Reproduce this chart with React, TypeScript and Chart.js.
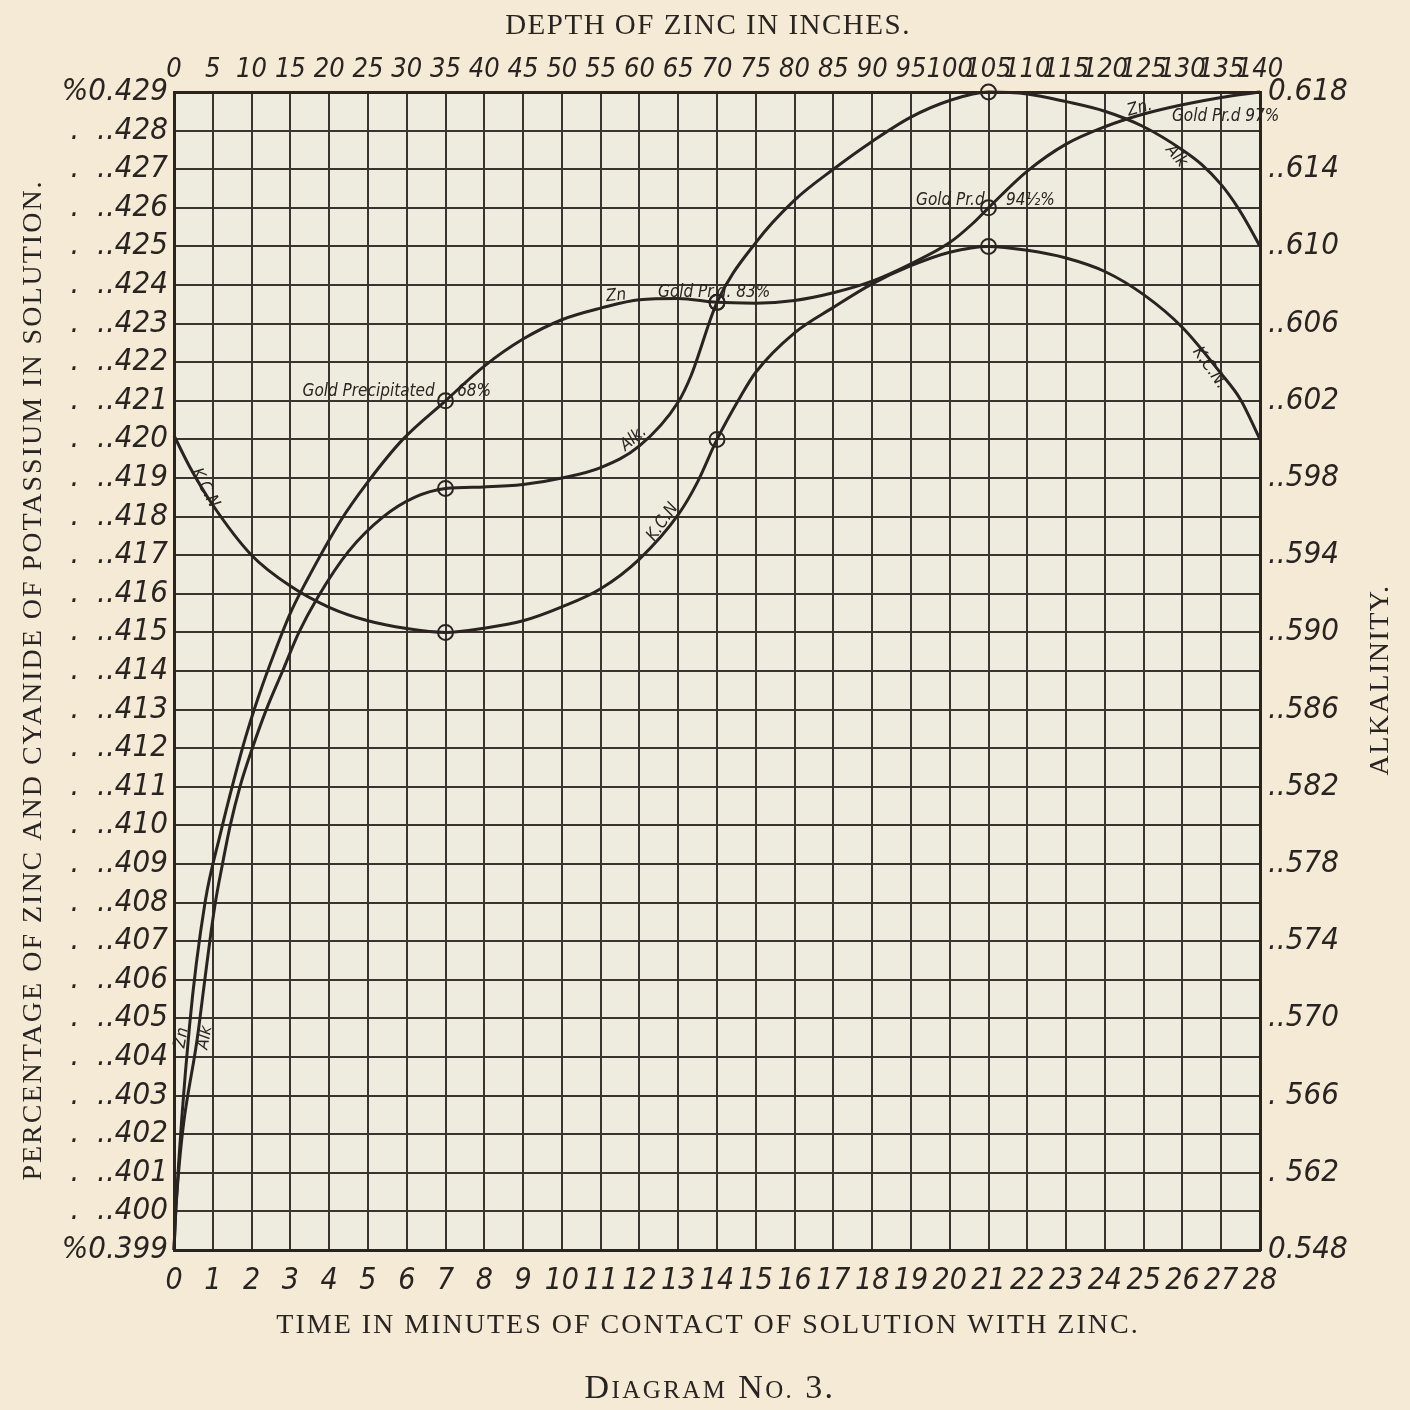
import React, { useEffect, useRef } from "react";
import { Chart, registerables } from "chart.js";

Chart.register(...registerables);

// ---------- data ----------
const znTimes = [0, 0.05, 0.4, 0.8, 1.2, 1.55, 1.85, 2.2, 2.6, 3.0, 3.4, 4.3, 5.0, 5.9, 7, 8, 9, 10, 11, 12, 13, 14, 15, 16, 17, 18, 19, 20, 20.6, 21, 22, 23, 24, 25, 26, 27, 28];
const znValues = [0.399, 0.4001, 0.4048, 0.408, 0.4098, 0.4112, 0.4123, 0.4134, 0.4145, 0.4155, 0.4163, 0.4179, 0.4189, 0.42, 0.421, 0.4219, 0.4226, 0.4231, 0.4234, 0.42362, 0.42365, 0.42355, 0.42353, 0.4236, 0.4238, 0.4241, 0.42455, 0.4251, 0.4256, 0.426, 0.42695, 0.42765, 0.4281, 0.42843, 0.42867, 0.42886, 0.429];

const alkTimes = [0, 0.05, 0.63, 1.05, 1.25, 1.45, 1.7, 2.02, 2.38, 2.8, 3.22, 3.7, 4.5, 5.4, 6.2, 7, 8, 9, 10, 11, 12, 13, 13.33, 14, 15, 16, 17, 18, 19, 20, 21, 22, 23, 24, 25, 26, 26.5, 27, 27.4, 27.7, 28];
const alkValues = [0.399, 0.4001, 0.4047, 0.4079, 0.409, 0.41, 0.411, 0.412, 0.413, 0.414, 0.415, 0.4159, 0.4171, 0.418, 0.4185, 0.41873, 0.41877, 0.41883, 0.419, 0.41927, 0.41983, 0.42097, 0.42165, 0.42355, 0.4251, 0.4262, 0.427, 0.42772, 0.42835, 0.42878, 0.429, 0.42895, 0.42875, 0.4285, 0.4281, 0.4275, 0.42712, 0.4266, 0.42605, 0.42555, 0.425];

const kcnTimes = [0, 0.4, 1, 2, 3, 4, 5, 6, 7, 8, 9, 10, 11, 12, 13, 13.5, 14, 14.6, 15, 16, 17, 18, 19, 20, 21, 22, 23, 24, 25, 26, 27, 27.5, 28];
const kcnValues = [0.4201, 0.4193, 0.4183, 0.417, 0.4162, 0.41565, 0.4153, 0.4151, 0.415, 0.41511, 0.4153, 0.41566, 0.41613, 0.4169, 0.41805, 0.4189, 0.42, 0.4211, 0.42174, 0.42276, 0.42342, 0.42403, 0.4245, 0.42485, 0.425, 0.4249, 0.4247, 0.42435, 0.42375, 0.4229, 0.4217, 0.42103, 0.42];

const markerTimes = [7, 14, 21];

const leftTickValues = [0.399, 0.4, 0.401, 0.402, 0.403, 0.404, 0.405, 0.406, 0.407, 0.408, 0.409, 0.41, 0.411, 0.412, 0.413, 0.414, 0.415, 0.416, 0.417, 0.418, 0.419, 0.42, 0.421, 0.422, 0.423, 0.424, 0.425, 0.426, 0.427, 0.428, 0.429];
const leftTickLabels = ["%0.399", ".  ..400", ".  ..401", ".  ..402", ".  ..403", ".  ..404", ".  ..405", ".  ..406", ".  ..407", ".  ..408", ".  ..409", ".  ..410", ".  ..411", ".  ..412", ".  ..413", ".  ..414", ".  ..415", ".  ..416", ".  ..417", ".  ..418", ".  ..419", ".  ..420", ".  ..421", ".  ..422", ".  ..423", ".  ..424", ".  ..425", ".  ..426", ".  ..427", ".  ..428", "%0.429"];

const rightTickValues = [0.399, 0.401, 0.403, 0.405, 0.407, 0.409, 0.411, 0.413, 0.415, 0.417, 0.419, 0.421, 0.423, 0.425, 0.427, 0.429];
const rightTickLabels = ["0.548", ". 562", ". 566", "..570", "..574", "..578", "..582", "..586", "..590", "..594", "..598", "..602", "..606", "..610", "..614", "0.618"];

const bottomTickValues = [0, 1, 2, 3, 4, 5, 6, 7, 8, 9, 10, 11, 12, 13, 14, 15, 16, 17, 18, 19, 20, 21, 22, 23, 24, 25, 26, 27, 28];
const topTickValues = [0, 5, 10, 15, 20, 25, 30, 35, 40, 45, 50, 55, 60, 65, 70, 75, 80, 85, 90, 95, 100, 105, 110, 115, 120, 125, 130, 135, 140];

const topTitle = "DEPTH OF ZINC IN INCHES.";
const bottomTitle = "TIME IN MINUTES OF CONTACT OF SOLUTION WITH ZINC.";
const leftTitle = "PERCENTAGE OF ZINC AND CYANIDE OF POTASSIUM IN SOLUTION.";
const rightTitle = "ALKALINITY.";

type Note = { text: string; t: number; v: number; angle: number; align: CanvasTextAlign };
const notes: Note[] = [
  { text: "Gold Precipitated", t: 6.72, v: 0.42123, angle: 0, align: "right" },
  { text: "68%", t: 7.3, v: 0.42123, angle: 0, align: "left" },
  { text: "Zn", t: 11.4, v: 0.42372, angle: -6, align: "center" },
  { text: "Gold Pr.d. 83%", t: 12.48, v: 0.4238, angle: 0, align: "left" },
  { text: "Alk.", t: 11.85, v: 0.42002, angle: -40, align: "center" },
  { text: "K.C.N", t: 12.6, v: 0.41786, angle: -55, align: "center" },
  { text: "K.C.N", t: 0.8, v: 0.41874, angle: 62, align: "center" },
  { text: "Gold Pr.d", t: 20.9, v: 0.4262, angle: 0, align: "right" },
  { text: "94½%", t: 21.45, v: 0.4262, angle: 0, align: "left" },
  { text: "Zn.", t: 24.9, v: 0.42858, angle: -15, align: "center" },
  { text: "Gold Pr.d 97%", t: 25.73, v: 0.42836, angle: 0, align: "left" },
  { text: "Alk.", t: 25.88, v: 0.42729, angle: 50, align: "center" },
  { text: "K.C.N.", t: 26.7, v: 0.42185, angle: 55, align: "center" },
  { text: "Zn", t: 0.2, v: 0.4045, angle: -80, align: "center" },
  { text: "Alk", t: 0.8, v: 0.4045, angle: -80, align: "center" },
];

// ---------- style ----------
const INK = "#2a2420";
const GRID = "#3b342e";
const PAGE = "#f5ead6";
const PAPER = "#eeebdf";
const TICK_FONT = "'DejaVu Sans Condensed', 'DejaVu Sans', sans-serif";
const NOTE_FONT = "'DejaVu Sans Condensed', 'DejaVu Sans', sans-serif";
const SERIF = "'Liberation Serif', 'DejaVu Serif', serif";

const toPoints = (ts: number[], vs: number[]) => ts.map((x, i) => ({ x, y: vs[i] }));
const isMarker = (ctx: any) => (ctx.raw && markerTimes.includes(ctx.raw.x) ? 7.5 : 0);

const backgroundPlugin = {
  id: "paperBackground",
  beforeDraw(chart: any) {
    const { ctx, chartArea } = chart;
    ctx.save();
    ctx.fillStyle = PAGE;
    ctx.fillRect(0, 0, chart.width, chart.height);
    ctx.fillStyle = PAPER;
    ctx.fillRect(chartArea.left, chartArea.top, chartArea.right - chartArea.left, chartArea.bottom - chartArea.top);
    ctx.restore();
  },
};

const textPlugin = {
  id: "paperText",
  afterDraw(chart: any) {
    const { ctx, chartArea, scales } = chart;
    const cx = (chartArea.left + chartArea.right) / 2 - 9;
    const cy = (chartArea.top + chartArea.bottom) / 2 + 9;
    ctx.save();
    ctx.fillStyle = INK;
    ctx.textBaseline = "middle";
    ctx.textAlign = "center";

    ctx.letterSpacing = "1.5px";
    ctx.font = `29px ${SERIF}`;
    ctx.fillText(topTitle, cx, 26);
    ctx.letterSpacing = "2px";
    ctx.font = `28px ${SERIF}`;
    ctx.fillText(bottomTitle, cx, chartArea.bottom + 76);

    // left title
    ctx.save();
    ctx.translate(34, cy);
    ctx.rotate(-Math.PI / 2);
    ctx.font = `28px ${SERIF}`;
    ctx.fillText(leftTitle, 0, 0);
    ctx.restore();

    // right title
    ctx.save();
    ctx.translate(chartArea.right + 121, cy);
    ctx.rotate(-Math.PI / 2);
    ctx.letterSpacing = "1.5px";
    ctx.font = `28px ${SERIF}`;
    ctx.fillText(rightTitle, 0, 0);
    ctx.restore();

    // Diagram caption in small caps
    ctx.letterSpacing = "2.4px";
    const parts: [string, number][] = [["D", 34], ["IAGRAM", 25], [" N", 34], ["O.", 25], [" 3.", 34]];
    let total = 0;
    parts.forEach(([s, sz]) => {
      ctx.font = `${sz}px ${SERIF}`;
      total += ctx.measureText(s).width;
    });
    let x = cx + 2 - total / 2;
    ctx.textAlign = "left";
    ctx.textBaseline = "alphabetic";
    const base = chartArea.bottom + 148;
    parts.forEach(([s, sz]) => {
      ctx.font = `${sz}px ${SERIF}`;
      ctx.fillText(s, x, base);
      x += ctx.measureText(s).width;
    });
    ctx.letterSpacing = "0px";

    // curve notes
    ctx.font = `italic 17px ${NOTE_FONT}`;
    ctx.textBaseline = "middle";
    notes.forEach((n) => {
      const px = scales.x.getPixelForValue(n.t);
      const py = scales.y.getPixelForValue(n.v);
      ctx.save();
      ctx.translate(px, py);
      ctx.rotate((n.angle * Math.PI) / 180);
      ctx.textAlign = n.align;
      ctx.fillText(n.text, 0, 0);
      ctx.restore();
    });
    ctx.restore();
  },
};

export default function App() {
  const canvasRef = useRef<HTMLCanvasElement | null>(null);

  useEffect(() => {
    document.body.style.margin = "0";
    const canvas = canvasRef.current;
    if (!canvas) return;

    const lineStyle = {
      borderColor: INK,
      borderWidth: 3,
      pointRadius: isMarker,
      pointHoverRadius: isMarker,
      pointBorderColor: INK,
      pointBorderWidth: 2,
      pointBackgroundColor: "rgba(0,0,0,0)",
      cubicInterpolationMode: "monotone" as const,
      fill: false,
      clip: false as const,
    };

    const chart = new Chart(canvas, {
      type: "line",
      data: {
        datasets: [
          { label: "Zn", data: toPoints(znTimes, znValues), ...lineStyle },
          { label: "Alk.", data: toPoints(alkTimes, alkValues), ...lineStyle },
          { label: "K.C.N.", data: toPoints(kcnTimes, kcnValues), ...lineStyle },
        ],
      },
      options: {
        animation: false,
        responsive: false,
        devicePixelRatio: 1,
        parsing: false,
        layout: { padding: 0 },
        plugins: { legend: { display: false }, tooltip: { enabled: false }, title: { display: false } },
        scales: {
          x: {
            type: "linear",
            position: "bottom",
            min: 0,
            max: 28,
            afterBuildTicks: (s: any) => { s.ticks = bottomTickValues.map((value) => ({ value })); },
            afterFit: (s: any) => { s.height = 160; },
            grid: { color: GRID, lineWidth: 2, drawTicks: false },
            border: { display: true, color: INK, width: 3 },
            ticks: {
              autoSkip: false,
              maxRotation: 0,
              padding: 13,
              color: INK,
              font: { family: TICK_FONT, size: 30, style: "italic" },
              callback: (v: any) => String(v),
            },
          },
          x2: {
            type: "linear",
            position: "top",
            min: 0,
            max: 140,
            afterBuildTicks: (s: any) => { s.ticks = topTickValues.map((value) => ({ value })); },
            afterFit: (s: any) => { s.height = 92; },
            grid: { display: false, drawTicks: false },
            border: { display: true, color: INK, width: 3 },
            ticks: {
              autoSkip: false,
              maxRotation: 0,
              padding: 6,
              color: INK,
              font: { family: TICK_FONT, size: 27, style: "italic" },
              callback: (v: any) => String(v),
            },
          },
          y: {
            type: "linear",
            position: "left",
            min: 0.399,
            max: 0.429,
            afterBuildTicks: (s: any) => { s.ticks = leftTickValues.map((value) => ({ value })); },
            afterFit: (s: any) => { s.width = 174; },
            grid: { color: GRID, lineWidth: 2, drawTicks: false },
            border: { display: true, color: INK, width: 3 },
            ticks: {
              autoSkip: false,
              padding: 6,
              color: INK,
              font: { family: TICK_FONT, size: 31, style: "italic" },
              callback: (v: any) => {
                const i = leftTickValues.findIndex((t) => Math.abs(t - v) < 1e-7);
                return i >= 0 ? leftTickLabels[i] : "";
              },
            },
          },
          y2: {
            type: "linear",
            position: "right",
            min: 0.399,
            max: 0.429,
            afterBuildTicks: (s: any) => { s.ticks = rightTickValues.map((value) => ({ value })); },
            afterFit: (s: any) => { s.width = 150; },
            grid: { display: false, drawTicks: false },
            border: { display: true, color: INK, width: 3 },
            ticks: {
              autoSkip: false,
              padding: 8,
              color: INK,
              font: { family: TICK_FONT, size: 31, style: "italic" },
              callback: (v: any) => {
                const i = rightTickValues.findIndex((t) => Math.abs(t - v) < 1e-7);
                return i >= 0 ? rightTickLabels[i] : "";
              },
            },
          },
        },
      },
      plugins: [backgroundPlugin, textPlugin],
    } as any);

    return () => chart.destroy();
  }, []);

  return (
    <div style={{ width: 1410, height: 1410 }}>
      <canvas ref={canvasRef} width={1410} height={1410} style={{ display: "block", width: 1410, height: 1410 }} />
    </div>
  );
}
